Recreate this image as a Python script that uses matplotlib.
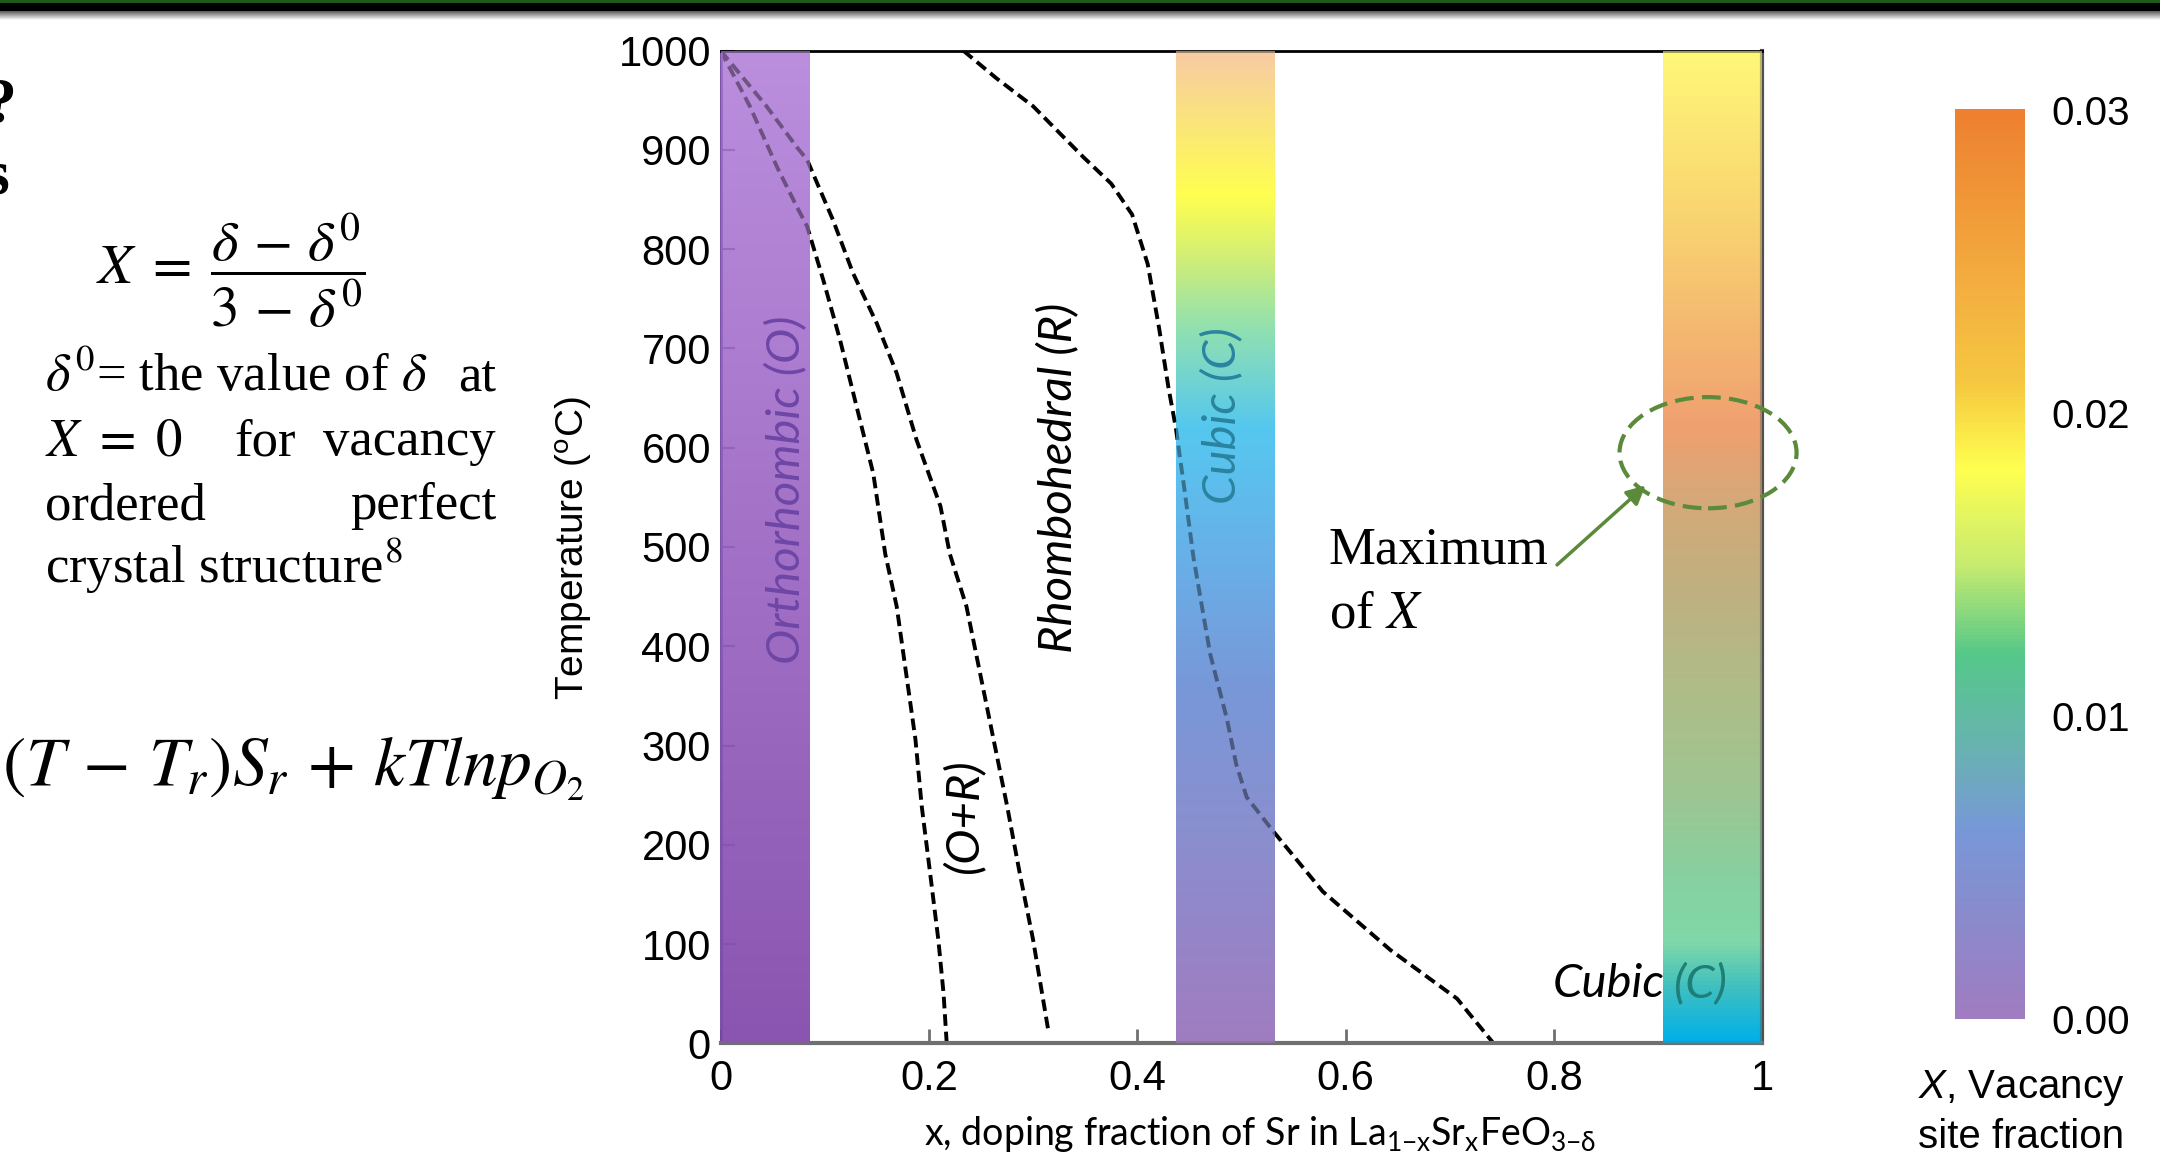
import numpy as np
import matplotlib.pyplot as plt
from matplotlib.colors import LinearSegmentedColormap
from matplotlib.patches import Ellipse, Rectangle

# phase boundaries: x = Sr fraction, t = temperature (C)
x_o_or = [0.0, 0.028, 0.054, 0.073, 0.083, 0.0985, 0.1145, 0.1306, 0.1465, 0.158,
          0.169, 0.178, 0.187, 0.193, 0.201, 0.209, 0.214, 0.217]
t_o_or = [1000, 944, 883, 843, 823, 769, 709, 641, 574, 493,
          440, 373, 306, 239, 172, 104, 50, 0]

x_or_r = [0.0, 0.022, 0.044, 0.073, 0.083, 0.108, 0.127, 0.150, 0.169, 0.188,
          0.211, 0.220, 0.236, 0.249, 0.262, 0.275, 0.287, 0.300, 0.315]
t_or_r = [1000, 972, 944, 903, 890, 829, 776, 725, 675, 608,
          541, 493, 440, 373, 306, 239, 172, 104, 10]

x_r_c = [0.233, 0.265, 0.300, 0.348, 0.375, 0.395, 0.410, 0.421, 0.430, 0.437, 0.445,
         0.454, 0.470, 0.486, 0.495, 0.505, 0.531, 0.578, 0.643, 0.707, 0.742]
t_r_c = [1000, 972, 944, 893, 866, 835, 785, 720, 660, 620, 560,
         489, 392, 327, 281, 248, 213, 153, 94, 45, 0]

# shaded phase columns (x start, x end)
band_ortho = (0.0, 0.0845)
band_cubic1 = (0.437, 0.5315)
band_cubic2 = (0.905, 1.0)

xticks = [0, 0.2, 0.4, 0.6, 0.8, 1.0]
xtick_labels = ['0', '0.2', '0.4', '0.6', '0.8', '1']
yticks = [0, 100, 200, 300, 400, 500, 600, 700, 800, 900, 1000]
cbar_ticks = [0.0, 0.01, 0.02, 0.03]
cbar_labels = ['0.00', '0.01', '0.02', '0.03']

# "maximum of X" marker
max_center = (0.948, 595)
max_size = (0.170, 112)
arrow_from = (0.803, 482)
arrow_to = (0.888, 562)

# colour stops, bottom -> top
ortho_stops = [(0.0, '#8A55B0'), (1.0, '#BB8EDE')]
cubic1_stops = [(0.0, '#A07CC0'), (0.23, '#8890D0'), (0.36, '#7898D8'), (0.49, '#68B0E8'),
                (0.62, '#55C8F0'), (0.72, '#90E0B0'), (0.80, '#D8F070'), (0.855, '#FFFF50'),
                (1.0, '#F7CBA4')]
cubic2_stops = [(0.0, '#00B0E8'), (0.055, '#40C0C0'), (0.10, '#80D8A8'), (0.166, '#88D0A0'),
                (0.263, '#A0C490'), (0.36, '#B0BC88'), (0.458, '#C0B080'), (0.555, '#D8A878'),
                (0.62, '#F0A070'), (0.718, '#F4B870'), (0.815, '#F8D070'), (1.0, '#FFF878')]
cbar_stops = [(0.0, '#A07CC0'), (0.206, '#7898D8'), (0.30, '#68B4B0'), (0.40, '#55C88A'),
              (0.50, '#C8EC70'), (0.605, '#FFFF50'), (0.70, '#F6C840'), (0.80, '#F4B040'),
              (1.0, '#EE8030')]

W, H = 2160, 1162


def fpos(x, y):  # pixel position (from top-left) -> figure fraction
    return x / W, 1 - y / H


def cmap_from(stops, name):
    return LinearSegmentedColormap.from_list(name, stops)


plt.rcParams['mathtext.fontset'] = 'custom'
plt.rcParams['mathtext.rm'] = 'Lato'
plt.rcParams['mathtext.it'] = 'Liberation Sans:italic'

fig = plt.figure(figsize=(W / 100, H / 100), dpi=100)

# slide header strip
fig.add_artist(Rectangle((0, 1 - 3 / H), 1, 3 / H, transform=fig.transFigure, color='#1E5C1E', lw=0))
fig.add_artist(Rectangle((0, 1 - 11 / H), 1, 8 / H, transform=fig.transFigure, color='black', lw=0))
shadow = fig.add_axes([0, 1 - 20 / H, 1, 9 / H])
shadow.imshow(np.linspace(0.35, 1.0, 64).reshape(-1, 1), cmap='gray', vmin=0, vmax=1, aspect='auto')
shadow.axis('off')

# main diagram
ax = fig.add_axes([720.7 / W, 1 - 1043.3 / H, 1041.5 / W, 992.6 / H])
grad = np.linspace(0, 1, 256).reshape(-1, 1)
bands = [(band_ortho, cmap_from(ortho_stops, 'ortho')),
         (band_cubic1, cmap_from(cubic1_stops, 'cub1')),
         (band_cubic2, cmap_from(cubic2_stops, 'cub2'))]
for (x0, x1), cm in bands:
    ax.imshow(grad, extent=[x0, x1, 0, 1000], origin='lower', aspect='auto', cmap=cm, zorder=1)

for xs, ts in [(x_o_or, t_o_or), (x_or_r, t_or_r), (x_r_c, t_r_c)]:
    ax.plot(xs, ts, color='black', lw=2.8, dashes=(3.0, 1.5), zorder=2)

# translucent copy of the columns so the boundaries look tinted inside them
for (x0, x1), cm in bands:
    ax.imshow(grad, extent=[x0, x1, 0, 1000], origin='lower', aspect='auto', cmap=cm,
              alpha=0.6, zorder=3)

ax.set_xlim(0, 1)
ax.set_ylim(0, 1000)
ax.set_xticks(xticks)
ax.set_xticklabels(xtick_labels)
ax.set_yticks(yticks)
ax.set_yticklabels([str(v) for v in yticks])
for lab in ax.get_xticklabels() + ax.get_yticklabels():
    lab.set_fontfamily('Liberation Sans')
    lab.set_fontsize(30)
ax.tick_params(axis='x', direction='in', length=10, width=2, color='#707070', pad=11)
ax.tick_params(axis='y', direction='in', length=10, width=1.5, color='#6E48A8', pad=7)

ax.spines['top'].set_color('black')
ax.spines['top'].set_linewidth(2)
ax.spines['right'].set_color('#505050')
ax.spines['right'].set_linewidth(3)
ax.spines['bottom'].set_color('#707070')
ax.spines['bottom'].set_linewidth(3)
ax.spines['left'].set_color('#6A3DA0')
ax.spines['left'].set_linewidth(2)

ax.set_ylabel(r'Temperature ($^{\mathrm{o}}$C)', fontfamily='Liberation Sans', fontsize=28, va='center')
ax.yaxis.set_label_coords(-0.141, 0.499)
ax.set_xlabel(r'x, doping fraction of Sr in La$_{\mathrm{1{-}x}}$Sr$_{\mathrm{x}}$FeO$_{\mathrm{3{-}\delta}}$',
              fontfamily='Lato', fontsize=27, va='center')
ax.xaxis.set_label_coords(0.518, -0.091)

lbl = dict(fontfamily='Lato', style='italic', fontsize=34, ha='center', va='center', zorder=4)
ax.text(0.062, 558, 'Orthorhombic (O)', rotation=90, color='#6E46A6', **lbl)
ax.text(0.324, 570, 'Rhombohedral (R)', rotation=90, color='black', **lbl)
ax.text(0.481, 632, 'Cubic (C)', rotation=90, color='#2A84A0', **lbl)
ax.text(0.233, 229, '(O+R)', rotation=90, color='black', **lbl)
lbl_h = dict(lbl, ha='left')
ax.text(0.799, 60, 'Cubic', color='black', **lbl_h)
ax.text(0.915, 60, '(C)', color='#1E7E78', **lbl_h)

ax.add_patch(Ellipse(max_center, max_size[0], max_size[1], fill=False, edgecolor='#5A8A3A',
                     lw=3, linestyle=(0, (4.5, 2)), clip_on=False, zorder=5))
ax.annotate('', xy=arrow_to, xytext=arrow_from,
            arrowprops=dict(arrowstyle='-|>', color='#5A8A3A', lw=2.5, mutation_scale=28,
                            shrinkA=0, shrinkB=0), zorder=5)
ax.text(0.584, 496, 'Maximum', fontfamily='Liberation Serif', fontsize=38, ha='left', va='center', zorder=5)
ax.text(0.584, 432, r'of $X$', fontfamily='Liberation Serif', fontsize=38, ha='left', va='center',
        math_fontfamily='stix', zorder=5)

# colour scale for X
cax = fig.add_axes([1955 / W, 1 - 1027 / H, 70 / W, 931 / H])
cax.imshow(grad, extent=[0, 1, 0, 0.03], origin='lower', aspect='auto', cmap=cmap_from(cbar_stops, 'cbar'))
cax.set_xlim(0, 1)
cax.set_ylim(-0.00026, 0.03046)
cax.set_xticks([])
cax.yaxis.tick_right()
cax.set_yticks(cbar_ticks)
cax.set_yticklabels(cbar_labels, fontfamily='Liberation Sans', fontsize=29)
cax.tick_params(axis='y', length=0, pad=19)
for s in cax.spines.values():
    s.set_visible(False)
fig.text(*fpos(2021, 1088), r'$X$, Vacancy', fontfamily='Liberation Sans', fontsize=29, ha='center', va='center')
fig.text(*fpos(2021, 1137), 'site fraction', fontfamily='Liberation Sans', fontsize=29, ha='center', va='center')

# slide text on the left (partly cut at the edge)
serif = dict(fontfamily='Liberation Serif', math_fontfamily='stix', fontsize=38, va='baseline')
fig.text(*fpos(16, 107), '?', fontfamily='Liberation Serif', fontweight='bold', fontsize=46, ha='right', va='center')
fig.text(*fpos(9, 178), 's', fontfamily='Liberation Serif', fontweight='bold', fontsize=46, ha='right', va='center')
fig.text(*fpos(96, 271), r'$X\;=\;\dfrac{\delta\,-\,\delta^0}{3\,-\,\delta^0}$', math_fontfamily='stix',
         fontsize=41, ha='left', va='center')
fig.text(*fpos(45, 391), r'$\delta^0$= the value of $\delta$', ha='left', **serif)
fig.text(*fpos(496, 391), 'at', ha='right', **serif)
fig.text(*fpos(45, 455), r'$X\ =\ 0$', ha='left', **serif)
fig.text(*fpos(265, 455), 'for', ha='center', **serif)
fig.text(*fpos(496, 455), 'vacancy', ha='right', **serif)
fig.text(*fpos(45, 519), 'ordered', ha='left', **serif)
fig.text(*fpos(496, 519), 'perfect', ha='right', **serif)
fig.text(*fpos(45, 583), r'crystal structure$^8$', ha='left', **serif)
fig.text(*fpos(2, 785), r'$(T\,-\,T_r)S_r\,+\,kTlnp_{O_2}$', math_fontfamily='stix', fontsize=50,
         ha='left', va='baseline')

fig.savefig('out.png', dpi=100)
